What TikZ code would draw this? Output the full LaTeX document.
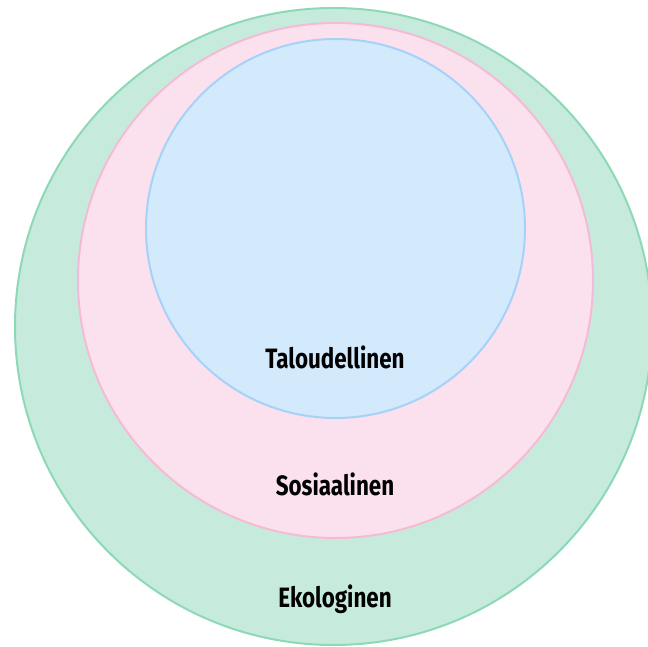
\documentclass[tikz,border=0pt]{standalone}
\usepackage{fontspec}
\setmainfont{Fira Sans}[FakeStretch=0.8]
\definecolor{ekofill}{HTML}{C6EBDC}
\definecolor{ekoline}{HTML}{8DD9B5}
\definecolor{sosfill}{HTML}{FBE1EE}
\definecolor{sosline}{HTML}{F5BBD6}
\definecolor{talfill}{HTML}{D3E9FC}
\definecolor{talline}{HTML}{A6D2FA}
\begin{document}
\begin{tikzpicture}[x=1pt,y=-1pt,
    ring/.style={line width=2pt},
    label/.style={font=\bfseries\fontsize{28}{33}\selectfont, text=black}]
                \useasboundingbox (0,0) rectangle (648,647) ;
                \draw [ring, draw=ekoline, fill=ekofill] (333.5,326.5) circle (318.5) ;
                \draw [ring, draw=sosline, fill=sosfill] (335.5,280.5) circle (257.5) ;
                \draw [ring, draw=talline, fill=talfill] (335.5,228.5) circle (189.5) ;
                \node [label] (talous) at (335,357) {Taloudellinen} ;
                \node [label] (sosiaali) at (335,484) {Sosiaalinen} ;
                \node [label] (ekologia) at (335,599) {Ekologinen} ;
            \end{tikzpicture}
\end{document}
